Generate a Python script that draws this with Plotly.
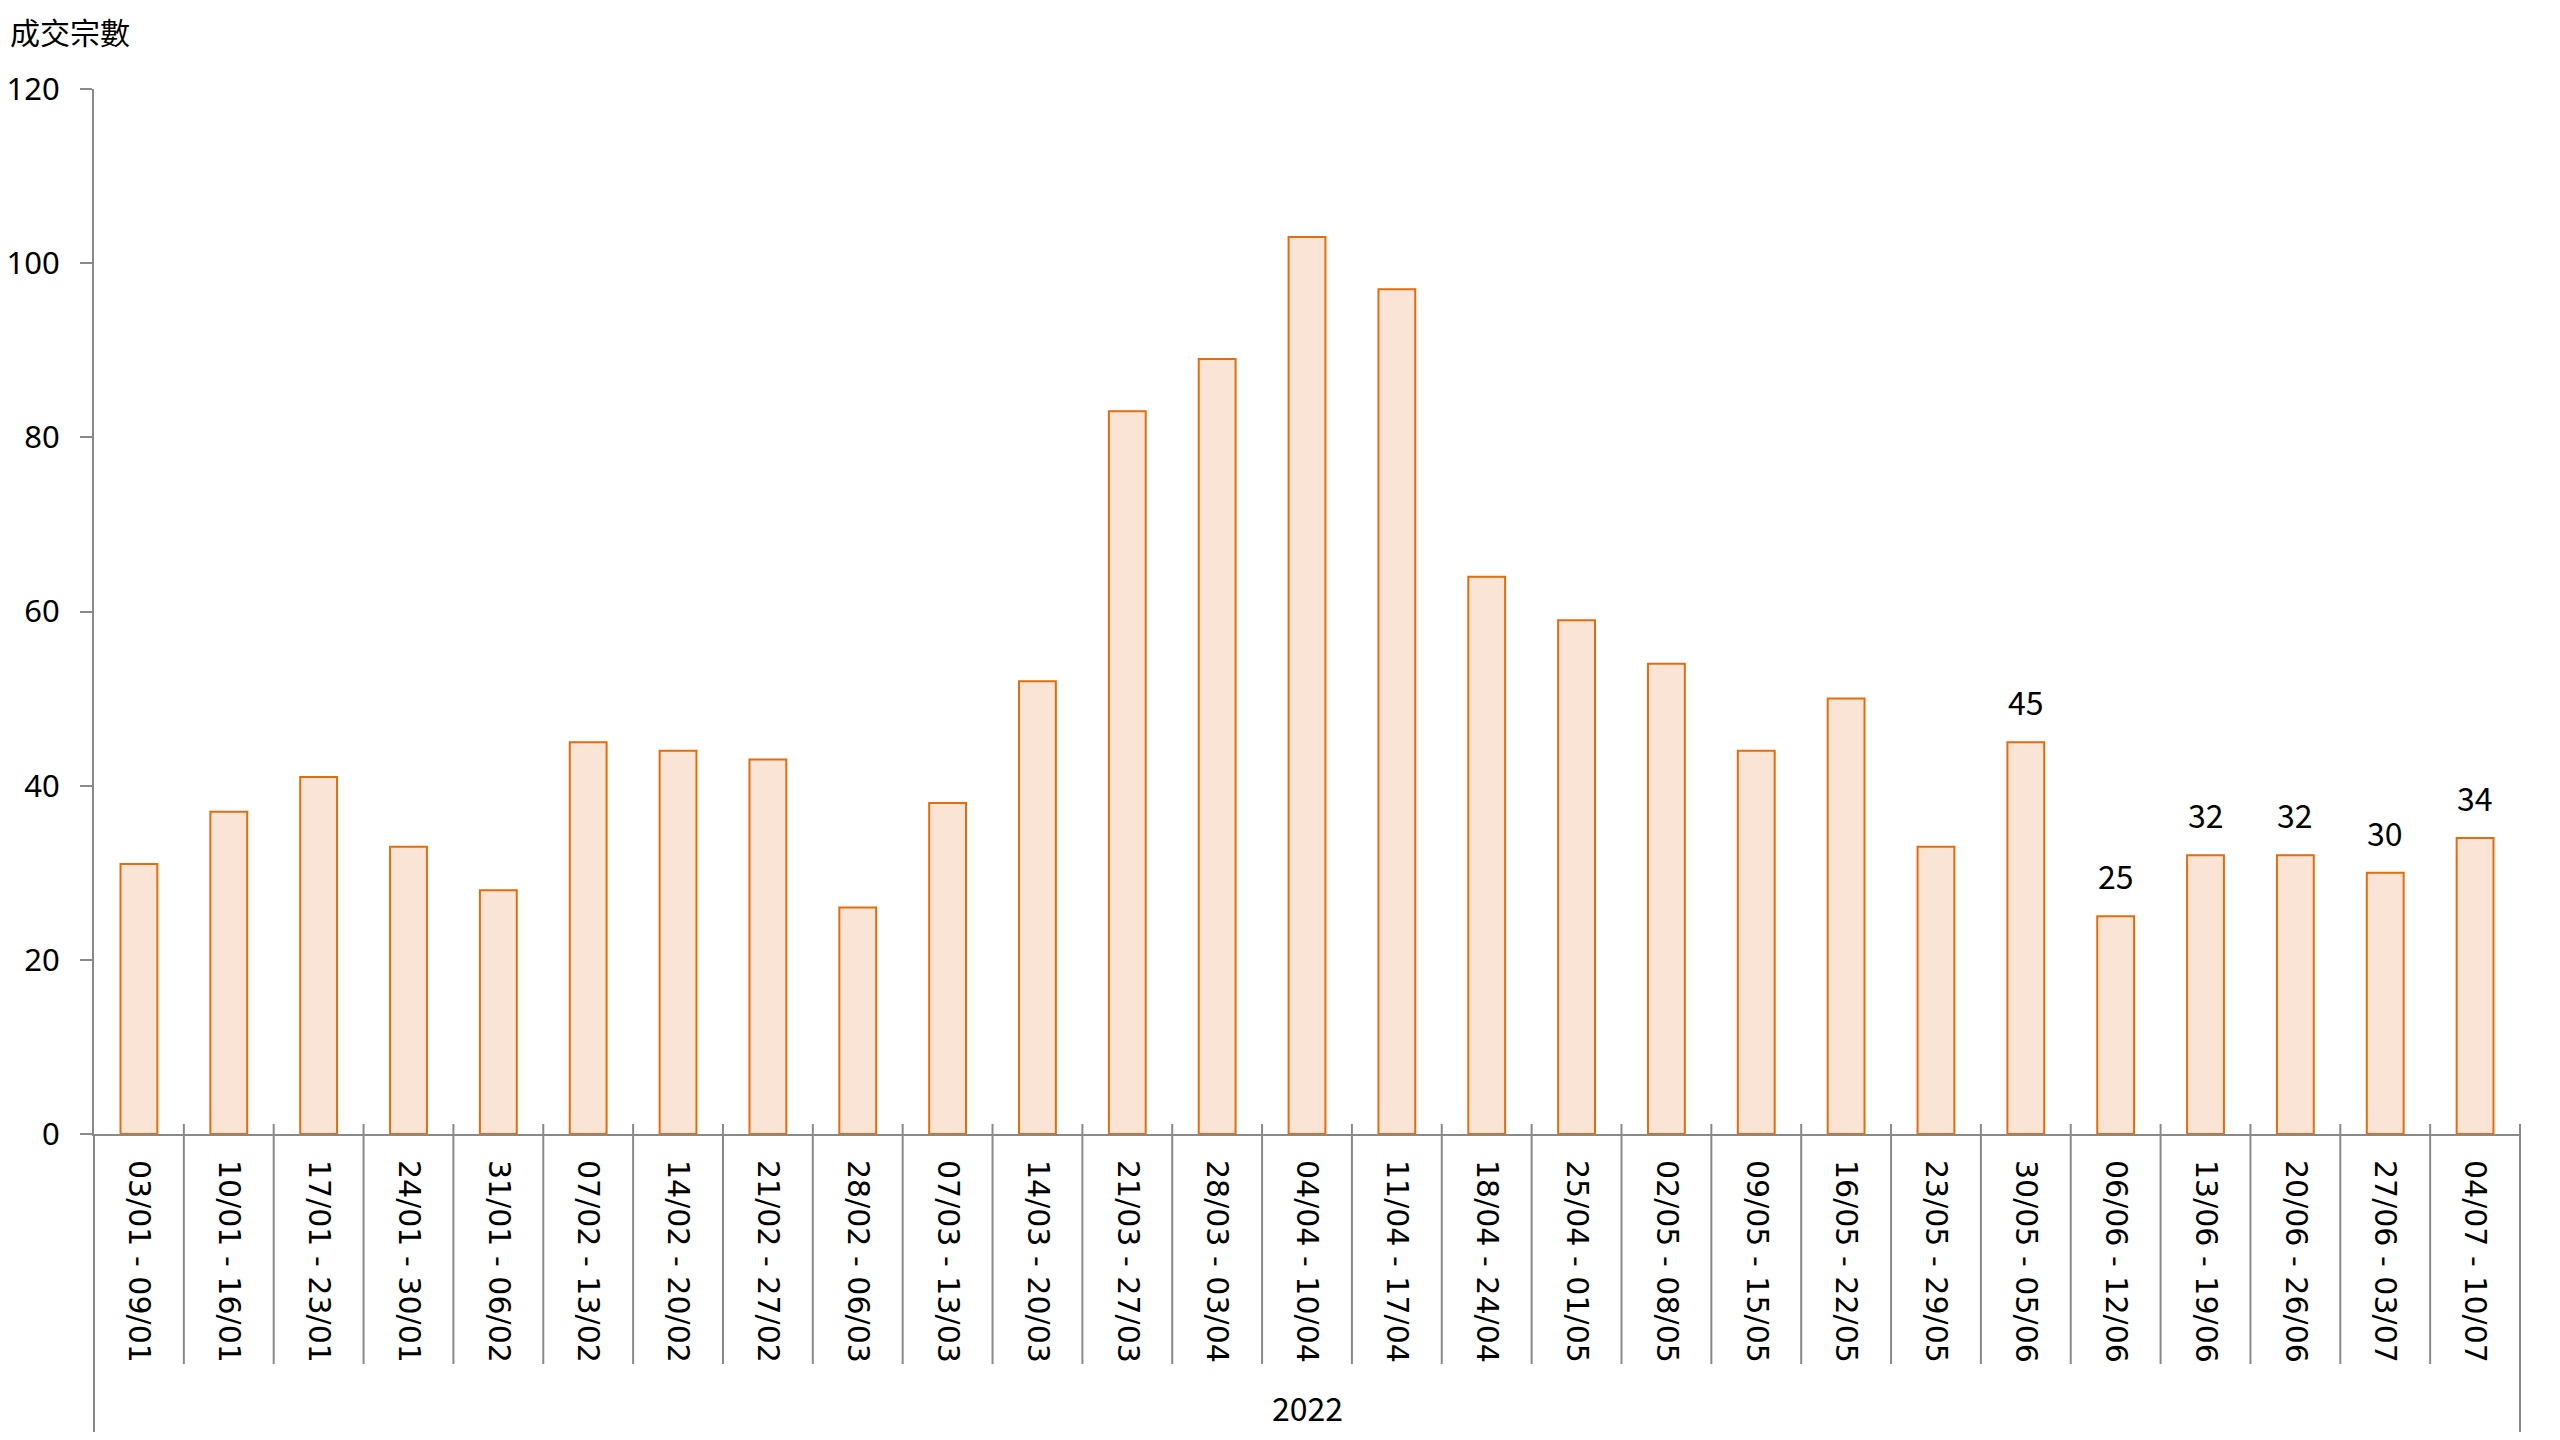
import plotly.graph_objects as go

year_label = "2022"
weeks = [
    "03/01 - 09/01", "10/01 - 16/01", "17/01 - 23/01", "24/01 - 30/01",
    "31/01 - 06/02", "07/02 - 13/02", "14/02 - 20/02", "21/02 - 27/02",
    "28/02 - 06/03", "07/03 - 13/03", "14/03 - 20/03", "21/03 - 27/03",
    "28/03 - 03/04", "04/04 - 10/04", "11/04 - 17/04", "18/04 - 24/04",
    "25/04 - 01/05", "02/05 - 08/05", "09/05 - 15/05", "16/05 - 22/05",
    "23/05 - 29/05", "30/05 - 05/06", "06/06 - 12/06", "13/06 - 19/06",
    "20/06 - 26/06", "27/06 - 03/07", "04/07 - 10/07",
]
transactions = [31, 37, 41, 33, 28, 45, 44, 43, 26, 38, 52, 83, 89, 103, 97,
                64, 59, 54, 44, 50, 33, 45, 25, 32, 32, 30, 34]
# which bars carry a data label
labelled = [False] * 21 + [True] * 6
y_ticks = [0, 20, 40, 60, 80, 100, 120]
y_title = "成交宗數"

AXIS = "#898989"
FILL = "#FAE4D6"
EDGE = "#E46C0A"

# figure geometry (page body margin removed in post_script)
W, H = 2560, 1440
ML, MR, MT, MB = 94, 40, 89, 306
plot_h = H - MT - MB

fig = go.Figure()
fig.add_trace(go.Bar(
    x=weeks, y=transactions,
    marker=dict(color=FILL, line=dict(color=EDGE, width=2)),
    hoverinfo="x+y",
))

annotations = []
for w, v, show in zip(weeks, transactions, labelled):
    if show:
        annotations.append(dict(
            x=w, y=v, xref="x", yref="y", text=str(v), showarrow=False,
            yanchor="bottom", yshift=16,
            font=dict(family="Noto Sans CJK TC", size=32, color="#000000"),
        ))
annotations.append(dict(
    x=0.5, y=0, xref="paper", yref="paper", text=year_label, showarrow=False,
    yanchor="middle", yshift=-273,
    font=dict(family="Noto Sans CJK TC", size=32, color="#000000"),
))
annotations.append(dict(
    x=0, y=1, xref="paper", yref="paper", text=y_title, showarrow=False,
    xanchor="left", yanchor="middle", xshift=-86, yshift=58,
    font=dict(family="Noto Sans CJK TC", size=30, color="#000000"),
))

shapes = []
n = len(weeks)
above = 10 / plot_h
inner_below = -230 / plot_h
outer_below = -298 / plot_h
for i in range(0, n + 1):
    outer = i in (0, n)
    shapes.append(dict(
        type="line", xref="paper", yref="paper",
        x0=i / n, x1=i / n,
        y0=(0 if i == 0 else above), y1=(outer_below if outer else inner_below),
        line=dict(color=AXIS, width=2), layer="above",
    ))

fig.update_layout(
    width=W, height=H,
    paper_bgcolor="white", plot_bgcolor="white",
    margin=dict(l=ML, r=MR, t=MT, b=MB, autoexpand=False),
    bargap=0.59,
    showlegend=False,
    annotations=annotations,
    shapes=shapes,
    xaxis=dict(
        type="category", range=[-0.5, n - 0.5],
        showline=True, linecolor=AXIS, linewidth=2,
        ticks="", tickangle=90, ticklabelstandoff=18,
        tickfont=dict(family="DejaVu Sans", size=30, color="#000000"),
        showgrid=False, zeroline=False, fixedrange=True,
    ),
    yaxis=dict(
        range=[0, 120], tickvals=y_ticks,
        showline=True, linecolor=AXIS, linewidth=2,
        ticks="outside", ticklen=12, tickwidth=2, tickcolor=AXIS,
        ticklabelstandoff=14,
        tickfont=dict(family="Noto Sans", size=31, color="#000000"),
        showgrid=False, zeroline=False, fixedrange=True,
    ),
)

fig.write_html(
    "out.html",
    config={"displayModeBar": False},
    post_script="document.body.style.margin='0px';document.body.style.overflow='hidden';",
)
